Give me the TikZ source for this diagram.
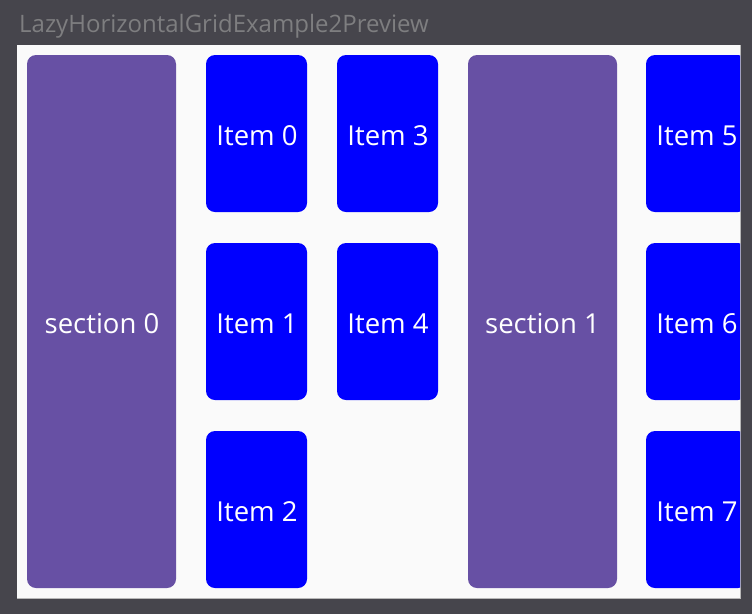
\documentclass[tikz,border=0pt]{standalone}
\usepackage{fontspec}
\setmainfont{Open Sans}
\newfontfamily\titlefont{Open Sans}
\definecolor{bgdark}{HTML}{46454C}
\definecolor{panelbg}{HTML}{FAFAFA}
\definecolor{panelline}{HTML}{B8B8B8}
\definecolor{titlegray}{HTML}{7E7E80}
\definecolor{sectpurple}{HTML}{6750A4}
\definecolor{itemblue}{HTML}{0000FF}
\tikzset{
  celltext/.style={text=white, inner sep=0pt, font=\fontsize{27.5}{30}\selectfont},
  sectionbox/.style={fill=sectpurple, rounded corners=9pt},
  itembox/.style={fill=itemblue, rounded corners=9pt},
}
\begin{document}
\begin{tikzpicture}[x=1pt,y=-1pt]
\fill[bgdark] (0,0) rectangle (752,614);
\useasboundingbox (0,0) rectangle (752,614);
\node[anchor=base west, text=titlegray, font=\titlefont\fontsize{24}{27}\selectfont, inner sep=0pt] (title) at (19,32) {LazyHorizontalGridExample2Preview};
\fill[panelline] (17,45) rectangle (741,599);
\fill[panelbg] (17,45) rectangle (740,598);
\begin{scope}
\clip (17,45) rectangle (740,598);
% sections
\fill[sectionbox] (27,55) rectangle (176,588);
\node[celltext] (s0) at (102,324) {section 0};
\fill[sectionbox] (468,55) rectangle (617,588);
\node[celltext] (s1) at (542.5,324) {section 1};
% items
\foreach \x/\y/\t in {206/55/0, 206/243/1, 206/431/2, 337/55/3, 337/243/4, 646/55/5, 646/243/6, 646/431/7}{
  \fill[itembox] (\x,\y) rectangle ++(101,157);
  \node[celltext] (item\t) at (\x+51,\y+81) {Item \t};
}
\end{scope}
\end{tikzpicture}
\end{document}
